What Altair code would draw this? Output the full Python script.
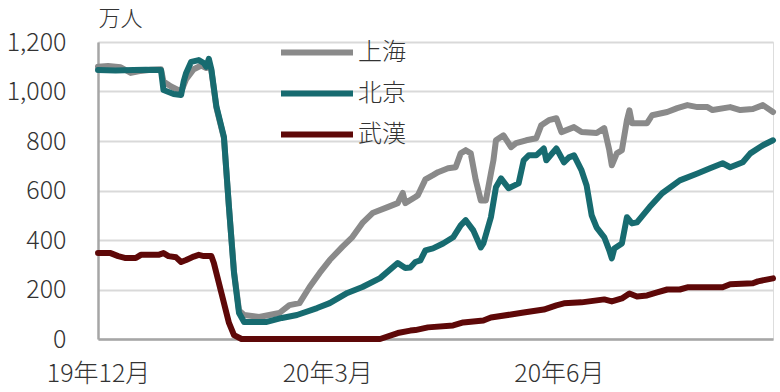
import altair as alt
import pandas as pd

cities = ["上海", "北京", "武漢"]
colors = ["#8a8a8a", "#176b70", "#5e0808"]
widths = [6, 6, 4]

sh_dates = ["2019-12-01", "2019-12-05", "2019-12-10", "2019-12-14", "2019-12-17", "2019-12-22", "2019-12-26",
            "2019-12-27", "2019-12-30", "2020-01-03", "2020-01-05", "2020-01-08", "2020-01-11", "2020-01-13",
            "2020-01-14", "2020-01-15", "2020-01-17", "2020-01-20", "2020-01-22", "2020-01-24", "2020-01-26",
            "2020-01-28", "2020-02-03", "2020-02-11", "2020-02-15", "2020-02-19", "2020-02-23", "2020-02-27",
            "2020-03-02", "2020-03-07", "2020-03-11", "2020-03-15", "2020-03-19", "2020-03-25", "2020-03-29",
            "2020-03-31", "2020-04-01", "2020-04-05", "2020-04-06", "2020-04-09", "2020-04-12", "2020-04-14",
            "2020-04-18", "2020-04-21", "2020-04-23", "2020-04-25", "2020-04-27", "2020-04-29", "2020-05-01",
            "2020-05-03", "2020-05-05", "2020-05-06", "2020-05-07", "2020-05-10", "2020-05-13", "2020-05-15",
            "2020-05-19", "2020-05-23", "2020-05-25", "2020-05-28", "2020-05-31", "2020-06-02", "2020-06-07",
            "2020-06-10", "2020-06-16", "2020-06-19", "2020-06-21", "2020-06-22", "2020-06-24", "2020-06-26",
            "2020-06-28", "2020-06-29", "2020-06-30", "2020-07-06", "2020-07-08", "2020-07-14", "2020-07-18",
            "2020-07-22", "2020-07-26", "2020-07-30", "2020-08-01", "2020-08-08", "2020-08-12", "2020-08-17",
            "2020-08-21", "2020-08-25"]
sh_values = [1100, 1103, 1098, 1075, 1082, 1088, 1090,
             1040, 1020, 1000, 1050, 1090, 1105, 1095,
             1112, 1085, 935, 812, 530, 272, 115,
             97, 89, 105, 137, 145, 210, 267,
             319, 372, 412, 469, 509, 533, 549,
             590, 549, 574, 581, 645, 662, 674,
             690, 694, 750, 763, 750, 641, 560,
             560, 669, 722, 803, 823, 775, 791,
             803, 811, 864, 884, 892, 836, 856,
             836, 832, 852, 763, 702, 750, 763,
             884, 924, 872, 872, 904, 917, 933,
             945, 937, 937, 925, 937, 925, 929,
             945, 917]

bj_dates = ["2019-12-01", "2019-12-08", "2019-12-15", "2019-12-20", "2019-12-26", "2019-12-27", "2019-12-31",
            "2020-01-03", "2020-01-04", "2020-01-05", "2020-01-07", "2020-01-10", "2020-01-12", "2020-01-13",
            "2020-01-14", "2020-01-15", "2020-01-17", "2020-01-20", "2020-01-22", "2020-01-24", "2020-01-26",
            "2020-01-28", "2020-02-06", "2020-02-12", "2020-02-18", "2020-02-26", "2020-03-02", "2020-03-09",
            "2020-03-15", "2020-03-22", "2020-03-29", "2020-04-01", "2020-04-03", "2020-04-05", "2020-04-07",
            "2020-04-09", "2020-04-12", "2020-04-16", "2020-04-20", "2020-04-23", "2020-04-25", "2020-04-28",
            "2020-05-01", "2020-05-02", "2020-05-05", "2020-05-07", "2020-05-09", "2020-05-12", "2020-05-16",
            "2020-05-18", "2020-05-20", "2020-05-23", "2020-05-26", "2020-05-27", "2020-05-31", "2020-06-03",
            "2020-06-05", "2020-06-07", "2020-06-10", "2020-06-12", "2020-06-14", "2020-06-16", "2020-06-19",
            "2020-06-21", "2020-06-22", "2020-06-23", "2020-06-26", "2020-06-28", "2020-06-30", "2020-07-02",
            "2020-07-07", "2020-07-12", "2020-07-19", "2020-07-26", "2020-07-31", "2020-08-05", "2020-08-08",
            "2020-08-13", "2020-08-16", "2020-08-21", "2020-08-25"]
bj_values = [1087, 1085, 1087, 1088, 1087, 1006, 990,
             986, 1040, 1075, 1120, 1127, 1115, 1100,
             1132, 1090, 940, 816, 533, 267, 105,
             69, 69, 85, 97, 125, 145, 186,
             210, 246, 307, 287, 289, 311, 318,
             358, 366, 386, 411, 459, 480, 439,
             370, 386, 492, 613, 649, 609, 629,
             722, 742, 742, 770, 722, 770, 714,
             734, 742, 681, 620, 500, 450, 411,
             358, 326, 366, 386, 492, 467, 471,
             533, 589, 641, 669, 690, 710, 694,
             714, 750, 783, 803]

wh_dates = ["2019-12-01", "2019-12-06", "2019-12-09", "2019-12-12", "2019-12-16", "2019-12-18", "2019-12-25",
            "2019-12-27", "2019-12-29", "2020-01-01", "2020-01-03", "2020-01-05", "2020-01-08", "2020-01-10",
            "2020-01-12", "2020-01-15", "2020-01-16", "2020-01-19", "2020-01-22", "2020-01-24", "2020-01-27",
            "2020-03-22", "2020-03-29", "2020-04-03", "2020-04-05", "2020-04-10", "2020-04-20", "2020-04-24",
            "2020-05-02", "2020-05-05", "2020-05-13", "2020-05-18", "2020-05-26", "2020-05-31", "2020-06-03",
            "2020-06-10", "2020-06-19", "2020-06-22", "2020-06-26", "2020-06-29", "2020-07-02", "2020-07-06",
            "2020-07-10", "2020-07-14", "2020-07-19", "2020-07-22", "2020-08-05", "2020-08-08", "2020-08-17",
            "2020-08-19", "2020-08-25"]
wh_values = [347, 347, 335, 327, 327, 340, 340,
             347, 335, 330, 311, 319, 333, 340,
             335, 335, 307, 186, 65, 16, 0,
             0, 24, 34, 36, 47, 55, 67,
             75, 87, 99, 107, 119, 136, 144,
             148, 160, 152, 164, 184, 172, 176,
             188, 200, 200, 209, 209, 221, 225,
             233, 245]

y_ticks = [0, 200, 400, 600, 800, 1000, 1200]
x_ticks = ["2019-12-01", "2020-03-01", "2020-06-01"]

frames = []
for name, d, v in [("上海", sh_dates, sh_values), ("北京", bj_dates, bj_values), ("武漢", wh_dates, wh_values)]:
    frames.append(pd.DataFrame({"date": pd.to_datetime(d), "value": v, "city": name}))
df = pd.concat(frames, ignore_index=True)


def dt(s):
    t = pd.Timestamp(s)
    return alt.DateTime(year=t.year, month=t.month, date=t.day)


FONT = "Noto Sans CJK JP"

legend_opts = dict(title=None, orient="none", legendX=180, legendY=-10,
                   symbolType="stroke", symbolSize=5184, labelFontSize=24,
                   labelFont=FONT, labelColor="#333333", labelOffset=2, labelFontWeight=300,
                   rowPadding=0, clipHeight=41)

chart = alt.Chart(df).mark_line(strokeCap="round", strokeJoin="round").encode(
    x=alt.X("date:T",
            scale=alt.Scale(domain=[dt("2019-12-01"), dt("2020-08-25")]),
            axis=alt.Axis(values=[dt(s) for s in x_ticks], format="%y年%-m月", title=None,
                          grid=False, ticks=False, labelFlush=False, labelOverlap=False,
                          labelPadding=22, labelFontSize=25, labelColor="#333333", labelFont=FONT,
                          labelFontWeight=300,
                          domainColor="#a6a6a6", domainWidth=2.5)),
    y=alt.Y("value:Q",
            scale=alt.Scale(domain=[0, 1200], nice=False),
            axis=alt.Axis(values=y_ticks, format=",d", title="万人", titleAngle=0, titleAlign="left",
                          titleBaseline="alphabetic", titleX=0, titleY=-17, titleFontSize=22,
                          titleFontWeight=300, titleColor="#333333", titleFont=FONT,
                          ticks=False, labelPadding=32, labelFontSize=25, labelColor="#333333",
                          labelFont=FONT, labelFontWeight=300, domainColor="#a6a6a6", domainWidth=2.5,
                          gridColor="#d9d9d9", gridWidth=2)),
    color=alt.Color("city:N", scale=alt.Scale(domain=cities, range=colors),
                    legend=alt.Legend(**legend_opts)),
    strokeWidth=alt.StrokeWidth("city:N", scale=alt.Scale(domain=cities, range=widths),
                                legend=alt.Legend(**legend_opts)),
).properties(
    width=675, height=297,
    autosize=alt.AutoSizeParams(type="none"),
    padding={"left": 98, "top": 42, "right": 7, "bottom": 53},
).configure_view(strokeWidth=0).configure(background="white")

chart.save("out.html", embed_options={"renderer": "svg", "actions": False})
